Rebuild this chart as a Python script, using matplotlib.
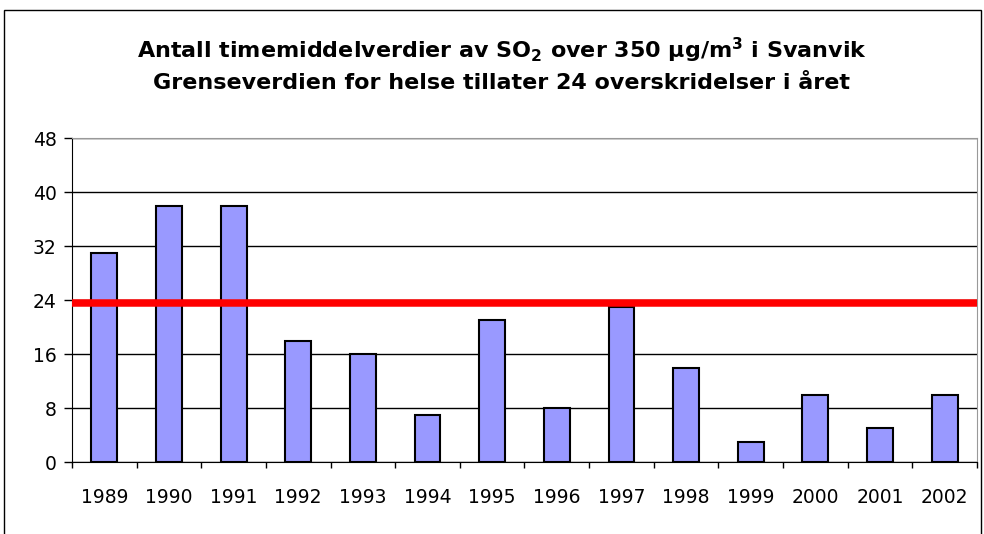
import matplotlib
matplotlib.use('Agg')
import matplotlib.pyplot as plt
from matplotlib.patches import Rectangle

# data
years = ['1989', '1990', '1991', '1992', '1993', '1994', '1995',
         '1996', '1997', '1998', '1999', '2000', '2001', '2002']
counts = [31, 38, 38, 18, 16, 7, 21, 8, 23, 14, 3, 10, 5, 10]
limit = 23.6
yticks = [0, 8, 16, 24, 32, 40, 48]

# the original text is wide, DejaVu comes closer than Arial clones
plt.rcParams['font.family'] = ['DejaVu Sans']
plt.rcParams['mathtext.fontset'] = 'dejavusans'

fig = plt.figure(figsize=(9.84, 5.34), dpi=100)
ax = fig.add_axes([72/984, 72/534, 905/984, 324/534])

x = list(range(len(years)))
ax.bar(x, counts, width=0.4, color='#9999FF', edgecolor='black', linewidth=1.5, zorder=2)
ax.axhline(limit, color='#FF0000', linewidth=5.4, zorder=3)

ax.set_xlim(-0.5, len(years) - 0.5)
ax.set_ylim(0, 48)
ax.set_yticks(yticks)
ax.set_yticklabels([str(v) for v in yticks], fontsize=13.5)
ax.yaxis.grid(True, color='black', linewidth=1)
ax.set_axisbelow(True)

# category labels in the middle, ticks on the boundaries
ax.set_xticks(x)
ax.set_xticklabels(years, fontsize=13.5)
ax.tick_params(axis='x', which='major', length=0, pad=19)
ax.set_xticks([i - 0.5 for i in range(len(years) + 1)], minor=True)
ax.tick_params(axis='x', which='minor', length=4, width=1, direction='out')
ax.tick_params(axis='y', length=6, width=1, direction='out', pad=5)

ax.spines['top'].set_color('#999999')
ax.spines['right'].set_color('#999999')
ax.spines['left'].set_color('black')
ax.spines['bottom'].set_color('black')

fig.text(0.51, 1 - 50/534, r'Antall timemiddelverdier av SO$_\mathbf{2}$ over 350 µg/m$^\mathbf{3}$ i Svanvik',
         ha='center', va='center', fontsize=16, fontweight='bold')
fig.text(0.51, 1 - 83/534, 'Grenseverdien for helse tillater 24 overskridelser i året',
         ha='center', va='center', fontsize=16, fontweight='bold')

# outer chart-area border (cut off at the bottom)
fig.patches.append(Rectangle((4/984, -0.1), 977/984, 1.1 - 10/534,
                             transform=fig.transFigure, fill=False,
                             edgecolor='black', linewidth=1))

plt.savefig('out.png', dpi=100)
plt.close()
